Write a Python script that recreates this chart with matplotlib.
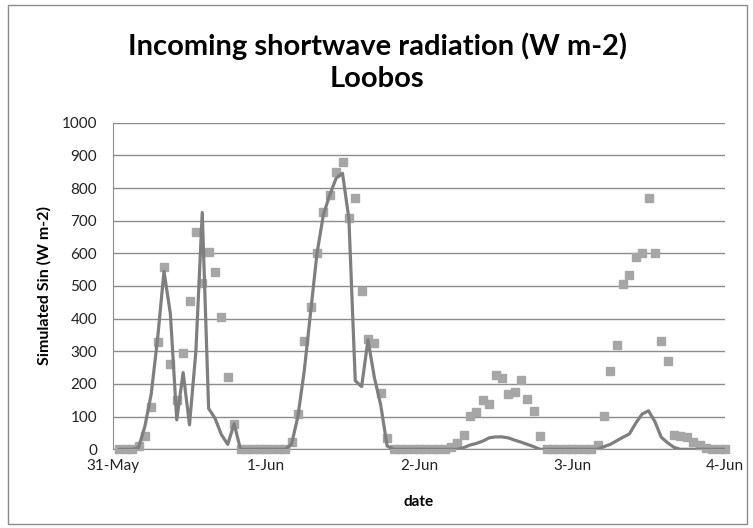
import pandas as pd
import matplotlib
matplotlib.use("Agg")
import matplotlib.pyplot as plt
import matplotlib.dates as mdates
from matplotlib.patches import Rectangle

plt.rcParams["font.family"] = ["Lato", "DejaVu Sans"]

# hourly values, 31-May 01:00 to 4-Jun 00:00
times = pd.date_range("2013-05-31 01:00", periods=96, freq="h")

observed = [0, 0, 0, 10, 40, 128, 330, 557, 262, 150, 295, 455, 665, 510, 604, 543,
            405, 222, 78, 0, 0, 0, 0, 0, 0, 0, 0, 23, 108, 333, 437, 600,
            728, 779, 850, 879, 707, 768, 486, 337, 326, 171, 34, 0, 0, 0, 0, 0,
            0, 0, 0, 0, 8, 20, 44, 102, 115, 151, 139, 228, 217, 168, 176, 212,
            153, 117, 41, 0, 0, 0, 0, 0, 0, 0, 0, 13, 102, 241, 319, 505,
            534, 590, 602, 770, 602, 332, 270, 45, 42, 38, 22, 12, 3, 0, 0, 0]

simulated = [0, 0, 0, 5, 70, 170, 340, 545, 415, 90, 235, 75, 300, 725, 125, 95,
             45, 15, 78, 0, 0, 0, 0, 0, 0, 0, 0, 15, 100, 240, 420, 600,
             718, 779, 830, 845, 707, 210, 192, 335, 220, 135, 10, 0, 0, 0, 0, 0,
             0, 0, 0, 0, 0, 0, 5, 13, 18, 25, 35, 38, 38, 35, 28, 22,
             15, 8, 0, 0, 0, 0, 0, 0, 0, 0, 0, 0, 8, 15, 26, 37,
             47, 80, 108, 118, 85, 37, 20, 6, 0, 0, 0, 0, 0, 0, 0, 0]

fig = plt.figure(figsize=(7.53, 5.28), dpi=100)
fig.patches.append(Rectangle((8 / 753, 4 / 528), 739 / 753, 519 / 528,
                             transform=fig.transFigure, fill=False,
                             edgecolor="#8c8c8c", linewidth=1))

ax = fig.add_axes([113 / 753, 1 - 449.3 / 528, 612 / 753, 326.6 / 528])

ax.plot(times, observed, linestyle="none", marker="s", markersize=6.3,
        color="#a6a6a6", clip_on=False, zorder=3)
ax.plot(times, simulated, color="#7f7f7f", linewidth=2.3, zorder=4,
        solid_joinstyle="round")

ax.set_ylim(0, 1000)
ax.set_yticks(range(0, 1001, 100))
ax.set_xlim(pd.Timestamp("2013-05-31"), pd.Timestamp("2013-06-04"))
ax.xaxis.set_major_locator(mdates.DayLocator())
ax.xaxis.set_major_formatter(mdates.DateFormatter("%-d-%b"))

ax.grid(axis="y", color="#8c8c8c", linewidth=1)
ax.set_axisbelow(True)
for side in ["top", "right"]:
    ax.spines[side].set_visible(False)
for side in ["left", "bottom"]:
    ax.spines[side].set_color("#8c8c8c")
ax.tick_params(length=0, labelsize=11, labelcolor="#222222")
ax.tick_params(axis="y", pad=11.5)
ax.tick_params(axis="x", pad=7)

ax.set_xlabel("date", fontsize=11, fontweight="bold", labelpad=16)
ax.set_ylabel("Simulated Sin (W m-2)", fontsize=11.5, fontweight="bold", labelpad=7)

fig.text(377 / 753, 1 - 62 / 528, "Incoming shortwave radiation (W m-2)\nLoobos",
         ha="center", va="center", fontsize=21, fontweight="bold",
         linespacing=1.3)

fig.savefig("out.png", dpi=100)
